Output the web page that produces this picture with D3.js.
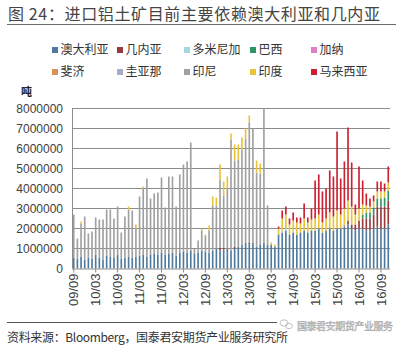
<!DOCTYPE html>
<html>
<head>
<meta charset="utf-8">
<script src="https://cdn.jsdelivr.net/npm/d3@7"></script>
<style>
  body { margin: 0; background: #fff; }
  svg { display: block; }
</style>
</head>
<body>
<svg id="chart" width="408" height="346"></svg>
<script>
// Monthly categories (yy/mm)
const months = [
  "09/09","09/10","09/11","09/12",
  "10/01","10/02","10/03","10/04","10/05","10/06","10/07","10/08","10/09","10/10","10/11","10/12",
  "11/01","11/02","11/03","11/04","11/05","11/06","11/07","11/08","11/09","11/10","11/11","11/12",
  "12/01","12/02","12/03","12/04","12/05","12/06","12/07","12/08","12/09","12/10","12/11","12/12",
  "13/01","13/02","13/03","13/04","13/05","13/06","13/07","13/08","13/09","13/10","13/11","13/12",
  "14/01","14/02","14/03","14/04","14/05","14/06","14/07","14/08","14/09","14/10","14/11","14/12",
  "15/01","15/02","15/03","15/04","15/05","15/06","15/07","15/08","15/09","15/10","15/11","15/12",
  "16/01","16/02","16/03","16/04","16/05","16/06","16/07","16/08","16/09","16/10","16/11"
];
const tickLabels = ["09/09","10/03","10/09","11/03","11/09","12/03","12/09","13/03","13/09",
                    "14/03","14/09","15/03","15/09","16/03","16/09"];
const yTicks = [0,1000000,2000000,3000000,4000000,5000000,6000000,7000000,8000000];

const seriesNames = ["澳大利亚","几内亚","多米尼加","巴西","加纳","斐济","圭亚那","印尼","印度","马来西亚"];

// Imports by origin, million tonnes per month
const australia = [
  .55,.5,.6,.45,.55,.5,.7,.55,.45,.65,
  .6,.55,.7,.5,.55,.6,.55,.6,.65,.7,
  .6,.7,.75,.7,.8,.7,.75,.8,.65,.8,
  .85,.8,.9,.75,.8,.9,.85,.8,.9,1.0,
  .9,.95,1.0,.9,1.0,1.1,1.2,1.3,1.2,1.3,
  1.1,1.2,1.3,1.2,1.2,1.1,1.7,1.8,1.9,1.7,
  1.8,1.7,1.8,1.9,1.8,1.9,1.9,2.0,1.8,1.9,
  2.0,1.9,2.0,2.0,2.1,2.2,2.0,1.9,2.0,2.0,
  1.9,1.9,2.0,2.1,2.0,2.0,2.2
];
const guinea = [
  0,0,0,0,0,0,0,0,0,0,
  0,0,0,0,0,0,0,0,0,0,
  0,0,0,0,0,0,0,0,0,0,
  0,0,0,0,0,0,0,0,0,0,
  .15,.1,0,0,.1,0,0,0,.1,0,
  0,0,0,0,0,0,0,0,0,0,
  0,0,0,0,0,0,0,0,0,0,
  0,0,0,0,0,.2,.2,.3,.4,.5,
  .6,.6,.7,1.0,1.1,1.1,1.2
];
const dominica = [
  0,0,0,0,0,0,0,0,0,0,
  0,0,0,0,0,0,0,0,0,0,
  0,0,0,0,0,0,0,0,0,0,
  0,0,0,0,0,0,0,0,0,0,
  0,0,0,0,0,0,0,0,0,0,
  0,0,0,0,0,0,0,.1,.1,0,
  .1,0,0,0,0,0,0,0,0,0,
  0,0,0,0,0,0,0,0,0,0,
  0,0,0,0,0,0,0
];
const brazil = [
  0,0,0,0,0,0,0,0,0,0,
  0,0,0,0,0,0,0,0,0,0,
  0,0,0,0,0,0,0,0,0,0,
  0,0,0,0,0,0,0,0,0,0,
  0,0,0,0,0,0,0,0,0,0,
  0,0,0,0,0,0,0,0,0,0,
  0,0,0,0,0,0,0,0,0,0,
  0,0,0,0,0,0,0,0,0,.2,
  .3,.3,.35,.4,.4,.45,.5
];
const ghana = [
  0,0,0,0,0,0,0,0,0,0,
  0,0,0,0,0,0,0,0,0,0,
  0,0,0,0,0,0,0,0,0,0,
  0,0,0,0,0,0,0,0,0,0,
  0,0,0,0,0,0,0,0,0,0,
  0,0,0,0,0,0,0,0,0,0,
  0,0,0,0,0,0,0,0,0,0,
  0,0,0,0,0,0,0,0,0,0,
  0,0,0,0,0,0,0
];
const fiji = [
  0,0,0,0,0,0,0,0,0,0,
  0,0,0,0,0,0,0,0,0,0,
  0,0,0,0,0,0,0,0,0,0,
  0,0,0,0,0,0,0,0,0,0,
  0,0,0,0,0,0,0,0,0,0,
  0,0,0,0,0,0,0,0,0,0,
  0,0,0,0,0,0,0,0,0,0,
  0,0,0,0,.1,0,0,0,0,0,
  0,0,0,0,0,0,0
];
const guyana = [
  0,0,0,0,0,0,0,0,0,0,
  0,0,0,0,0,0,0,0,0,0,
  0,0,0,0,0,0,0,0,0,0,
  0,0,0,0,0,0,0,0,0,0,
  0,0,0,0,0,0,0,0,0,0,
  0,0,0,0,0,0,0,0,0,0,
  0,0,0,0,0,0,0,0,0,0,
  0,0,0,0,0,0,0,0,0,0,
  0,0,0,0,0,0,0
];
const indonesia = [
  2.15,1.0,1.65,2.15,1.2,1.35,1.85,1.9,2.0,2.3,
  2.35,1.95,2.4,1.3,2.05,2.35,2.35,1.4,2.95,3.3,
  3.9,2.8,3.0,3.1,3.75,2.35,3.85,3.8,2.45,3.9,
  4.35,4.55,5.4,.25,.6,1.0,.8,1.1,2.25,2.15,
  3.4,2.6,3.0,5.55,4.3,4.35,4.75,5.2,6.0,5.7,
  3.7,3.55,6.7,1.95,0,0,0,0,0,0,
  0,0,0,0,0,0,0,0,0,0,
  0,0,0,0,0,0,0,0,0,0,
  0,0,0,0,0,0,0
];
const india = [
  0,0,.1,0,0,0,0,0,0,0,
  0,0,0,0,0,.15,0,.2,0,.1,
  0,0,0,0,0,0,0,0,0,0,
  0,0,0,0,0,.1,.05,.25,.45,.4,
  .75,.7,.6,.3,.8,.75,.6,.5,.35,0,
  .6,.5,0,0,.1,.1,.3,.6,.7,.5,
  .5,.6,.45,.6,.5,.55,.6,.7,.5,.6,
  .8,.7,.9,.7,.8,1.0,.9,.5,.6,.5,
  .35,.3,.3,.35,.35,.3,.4
];
const malaysia = [
  0,0,0,0,0,0,0,0,0,0,
  0,0,0,0,0,0,0,0,0,0,
  0,0,0,0,0,0,0,0,0,0,
  0,0,0,0,0,0,0,0,0,0,
  0,0,0,0,0,0,0,0,0,0,
  0,0,0,0,0,0,.1,.4,.4,.3,
  .4,.25,.3,.75,.25,.55,1.9,2.0,1.55,1.5,
  2.1,2.0,3.95,1.8,2.35,3.65,2.2,.5,2.1,1.2,
  .6,.4,.3,.5,.5,.4,.8
];

const seriesValues = [australia, guinea, dominica, brazil, ghana, fiji, guyana, indonesia, india, malaysia];
const seriesColors = ["#4f7a9e","#983a3c","#a6d6dd","#2f9565","#e27fc4",
                      "#d5935a","#a7acc9","#a0a0a0","#e9c33a","#cc1f30"];
const TONNES_PER_UNIT = 1e6;

// Rows for d3.stack
const rows = months.map((m, i) => {
  const r = { month: m };
  seriesNames.forEach((name, k) => { r[name] = seriesValues[k][i] * TONNES_PER_UNIT; });
  return r;
});

const svg = d3.select("#chart");
const plot = { left: 72, right: 390, top: 108.5, bottom: 268.5 };
const cjk = "'Noto Sans CJK SC', 'Noto Sans', sans-serif";
const latin = "'Liberation Sans', Arial, sans-serif";

const x = d3.scaleBand()
  .domain(months)
  .range([plot.left, plot.right])
  .paddingInner(0.55)
  .paddingOuter(0.25);

const y = d3.scaleLinear()
  .domain([0, 8000000])
  .range([plot.bottom, plot.top]);

// Title and rule beneath it
svg.append("text")
  .attr("x", 8).attr("y", 19.5)
  .attr("font-family", cjk).attr("font-size", 16)
  .attr("fill", "#444")
  .attr("textLength", 372).attr("lengthAdjust", "spacing")
  .text("图 24：进口铝土矿目前主要依赖澳大利亚和几内亚");
svg.append("line")
  .attr("x1", 7).attr("x2", 396).attr("y1", 24.5).attr("y2", 24.5)
  .attr("stroke", "#6b6b6b").attr("stroke-width", 1);

// Legend, two rows of five
const legendX = [52, 117, 184, 250, 311];
const legendY = [50, 72];
const legend = svg.append("g");
seriesNames.forEach((name, k) => {
  const col = k % 5, row = Math.floor(k / 5);
  const g = legend.append("g").attr("transform", `translate(${legendX[col]},${legendY[row]})`);
  g.append("rect").attr("x", 0).attr("y", -3).attr("width", 6).attr("height", 6)
    .attr("fill", seriesColors[k]);
  g.append("text").attr("x", 8.5).attr("y", 0).attr("dy", "0.36em")
    .attr("font-family", cjk).attr("font-size", 12).attr("fill", "#333")
    .text(name);
});

// Unit label
svg.append("text")
  .attr("x", 21).attr("y", 96)
  .attr("font-family", cjk).attr("font-size", 11).attr("font-weight", 700)
  .attr("fill", "#222").text("吨");

// Gridlines
svg.append("g")
  .selectAll("line")
  .data(yTicks.filter(v => v > 0))
  .join("line")
  .attr("x1", plot.left).attr("x2", plot.right)
  .attr("y1", d => y(d)).attr("y2", d => y(d))
  .attr("stroke", "#8c8c8c").attr("stroke-width", 1);

// Stacked columns
const stacked = d3.stack().keys(seriesNames)(rows);
svg.append("g")
  .selectAll("g")
  .data(stacked)
  .join("g")
  .attr("fill", (d, k) => seriesColors[k])
  .selectAll("rect")
  .data(d => d.filter(s => s[1] - s[0] > 0))
  .join("rect")
  .attr("x", d => x(d.data.month))
  .attr("width", x.bandwidth())
  .attr("y", d => y(d[1]))
  .attr("height", d => y(d[0]) - y(d[1]));

// Y axis
const yAxis = svg.append("g")
  .attr("transform", `translate(${plot.left},0)`)
  .call(d3.axisLeft(y).tickValues(yTicks).tickFormat(d3.format("d")).tickSize(0).tickPadding(9));
yAxis.select(".domain").attr("stroke", "#8c8c8c").attr("d", `M0.5,${plot.top}V${plot.bottom}`);
yAxis.selectAll("text")
  .attr("font-family", latin).attr("font-size", 12).attr("fill", "#404040");

// X axis
const xAxis = svg.append("g")
  .attr("transform", `translate(0,${plot.bottom})`)
  .call(d3.axisBottom(x).tickValues(tickLabels).tickSize(4).tickSizeOuter(0));
xAxis.select(".domain").attr("stroke", "#8c8c8c").attr("d", `M${plot.left},0.5H${plot.right}`);
xAxis.selectAll(".tick line").attr("stroke", "#8c8c8c");
xAxis.selectAll(".tick text")
  .attr("font-family", latin).attr("font-size", 13).attr("fill", "#404040")
  .attr("transform", "rotate(-90)")
  .attr("x", -5).attr("y", 0).attr("dy", "0.36em")
  .attr("text-anchor", "end");

// Footer rule, source note and account mark
svg.append("line")
  .attr("x1", 7).attr("x2", 277).attr("y1", 322.5).attr("y2", 322.5)
  .attr("stroke", "#555").attr("stroke-width", 1);
svg.append("text")
  .attr("x", 7).attr("y", 341.5)
  .attr("font-family", cjk).attr("font-size", 12).attr("fill", "#333")
  .attr("textLength", 281).attr("lengthAdjust", "spacing")
  .text("资料来源：Bloomberg，国泰君安期货产业服务研究所");
const mark = svg.append("g").attr("fill", "none").attr("stroke", "#b4b4b4").attr("stroke-width", 0.8);
mark.append("ellipse").attr("cx", 284).attr("cy", 323).attr("rx", 4).attr("ry", 3.2);
mark.append("ellipse").attr("cx", 289).attr("cy", 326).attr("rx", 3.4).attr("ry", 2.7);
svg.append("text")
  .attr("x", 297).attr("y", 330)
  .attr("font-family", cjk).attr("font-size", 10).attr("fill", "#f2f2f2")
  .attr("stroke", "#a8a8a8").attr("stroke-width", 0.5)
  .attr("textLength", 96).attr("lengthAdjust", "spacing")
  .text("国泰君安期货产业服务");
</script>
</body>
</html>
